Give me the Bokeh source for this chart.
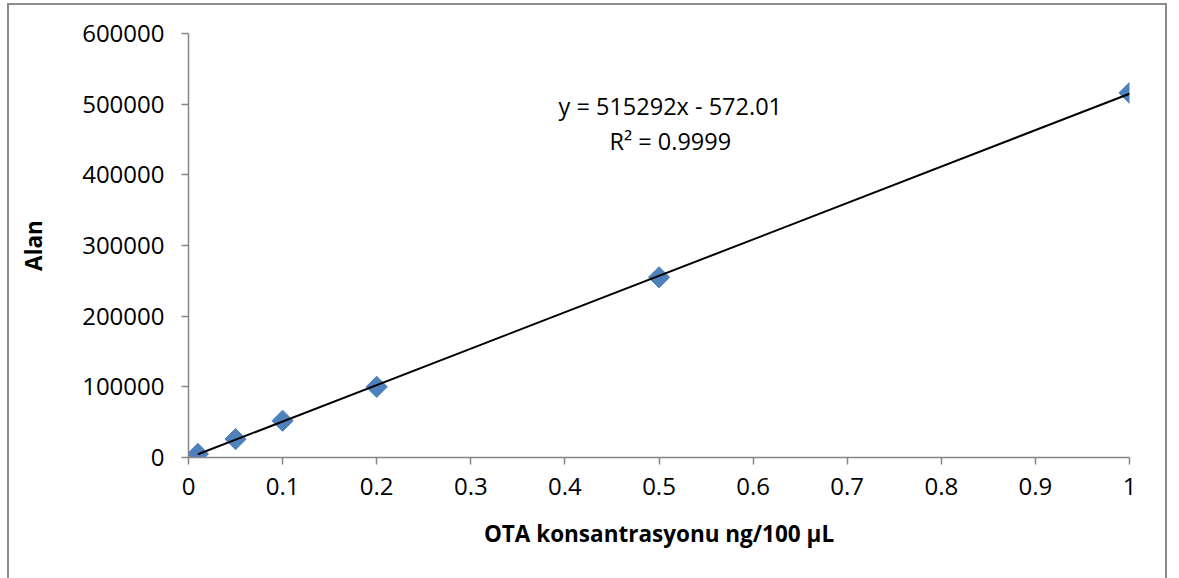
from bokeh.plotting import figure
from bokeh.models import Range1d, FixedTicker, Label, InlineStyleSheet
from bokeh.embed import file_html
from bokeh.resources import INLINE
import math

conc = [0.01, 0.05, 0.1, 0.2, 0.5, 1.0]
area = [5000, 26000, 52000, 100000, 255000, 516000]
slope = 515292
intercept = -572.01
eq_text = "y = 515292x - 572.01"
r2_text = "R² = 0.9999"
x_ticks = [0, 0.1, 0.2, 0.3, 0.4, 0.5, 0.6, 0.7, 0.8, 0.9, 1]
y_ticks = [0, 100000, 200000, 300000, 400000, 500000, 600000]

FONT = "Open Sans"
AXIS_COLOR = "#868686"

border_css = InlineStyleSheet(css="""
:host { position: relative; }
:host::after {
  content: "";
  position: absolute;
  left: 7px; top: 3px;
  width: 1160px; height: 620px;
  border: 2px solid #8c8c8c;
  pointer-events: none;
  box-sizing: border-box;
}
""")

p = figure(width=1179, height=578, output_backend="svg", toolbar_location=None,
           x_range=Range1d(0, 1), y_range=Range1d(0, 600000),
           min_border_left=188, min_border_right=50, min_border_top=33, min_border_bottom=121,
           stylesheets=[border_css])
p.outline_line_color = None
p.grid.visible = False
p.background_fill_color = "white"
p.border_fill_color = "white"

for ax in (p.xaxis, p.yaxis):
    ax.axis_line_color = AXIS_COLOR
    ax.axis_line_width = 1.5
    ax.major_tick_line_color = AXIS_COLOR
    ax.major_tick_line_width = 1.5
    ax.major_tick_in = 0
    ax.major_tick_out = 7
    ax.minor_tick_line_color = None
    ax.major_label_text_font = FONT
    ax.major_label_text_font_size = "24px"
    ax.major_label_text_color = "black"
    ax.axis_label_text_font = FONT
    ax.axis_label_text_font_style = "bold"
    ax.axis_label_text_font_size = "22.5px"
    ax.axis_label_text_color = "black"

p.xaxis.ticker = FixedTicker(ticks=x_ticks)
p.yaxis.ticker = FixedTicker(ticks=y_ticks)
p.xaxis.major_label_overrides = {t: ("0" if t == 0 else ("1" if t == 1 else str(t))) for t in x_ticks}
p.yaxis.major_label_overrides = {t: str(t) for t in y_ticks}
p.xaxis.major_label_standoff = 13
p.yaxis.major_label_standoff = 17
p.xaxis.axis_label = "OTA konsantrasyonu ng/100 µL"
p.yaxis.axis_label = "Alan"
p.xaxis.axis_label_standoff = 20
p.yaxis.axis_label_standoff = 30

p.scatter(conc, area, marker="square", size=15, angle=math.pi / 4,
          fill_color="#4F81BD", line_color="#4F81BD", line_width=1)

x0, x1 = min(conc), max(conc)
p.line([x0, x1], [slope * x0 + intercept, slope * x1 + intercept],
       line_color="black", line_width=2)

eq_x = 0.512
p.add_layout(Label(x=eq_x, y=497000, text=eq_text, text_font=FONT, text_font_size="23.5px",
                   text_align="center", text_baseline="middle", text_color="black"))
p.add_layout(Label(x=eq_x, y=448000, text=r2_text, text_font=FONT, text_font_size="23.5px",
                   text_align="center", text_baseline="middle", text_color="black"))

open("out.html", "w").write(file_html(p, INLINE))
